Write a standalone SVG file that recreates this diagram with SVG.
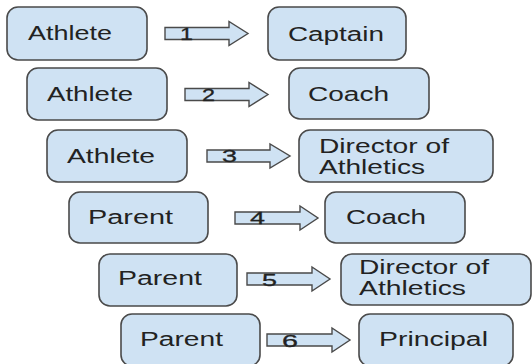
<svg xmlns="http://www.w3.org/2000/svg" width="532" height="364" viewBox="0 0 532 364">
<style>
.box{fill:#cfe2f3;stroke:#4a4a4a;stroke-width:1.6}
.arr{fill:#cfe2f3;stroke:#4a4a4a;stroke-width:1.4;stroke-linejoin:miter}
.t{font-family:"Liberation Sans",Arial,sans-serif;font-size:20px;fill:#222}
.n{font-family:"Liberation Sans",Arial,sans-serif;font-size:17px;fill:#222;stroke:#222;stroke-width:0.3}
</style>
<rect width="532" height="364" fill="#fff"/>
<g id="connectors">
<g id="c1"><polygon class="arr" points="165,27.5 229,27.5 229,21.5 248,33.5 229,45.5 229,39.5 165,39.5"/><text class="n" x="180" y="40" textLength="13" lengthAdjust="spacingAndGlyphs">1</text></g>
<g id="c2"><polygon class="arr" points="185,88.5 249,88.5 249,82.5 268,94.5 249,106.5 249,100.5 185,100.5"/><text class="n" x="202" y="101" textLength="13" lengthAdjust="spacingAndGlyphs">2</text></g>
<g id="c3"><polygon class="arr" points="207,150 270,150 270,144 290,156 270,168 270,162 207,162"/><text class="n" x="222" y="162" textLength="15" lengthAdjust="spacingAndGlyphs">3</text></g>
<g id="c4"><polygon class="arr" points="235,212 300,212 300,206 318,218 300,230 300,224 235,224"/><text class="n" x="250" y="223.5" textLength="15" lengthAdjust="spacingAndGlyphs">4</text></g>
<g id="c5"><polygon class="arr" points="247,273 312,273 312,267 330,279 312,291 312,285 247,285"/><text class="n" x="262" y="286" textLength="15" lengthAdjust="spacingAndGlyphs">5</text></g>
<g id="c6"><polygon class="arr" points="267,334 332,334 332,328 350,340 332,352 332,346 267,346"/><text class="n" x="282" y="347" textLength="16" lengthAdjust="spacingAndGlyphs">6</text></g>
</g>
<g id="athlete1"><rect class="box" x="7" y="7" width="140" height="53" rx="11"/><text class="t" x="28" y="40" textLength="84" lengthAdjust="spacingAndGlyphs">Athlete</text></g>
<g id="captain"><rect class="box" x="268" y="7" width="138" height="53" rx="11"/><text class="t" x="288" y="41" textLength="96" lengthAdjust="spacingAndGlyphs">Captain</text></g>
<g id="athlete2"><rect class="box" x="27" y="68" width="140" height="52" rx="11"/><text class="t" x="47" y="101" textLength="86" lengthAdjust="spacingAndGlyphs">Athlete</text></g>
<g id="coach1"><rect class="box" x="289" y="68" width="140" height="51" rx="11"/><text class="t" x="308" y="101" textLength="81" lengthAdjust="spacingAndGlyphs">Coach</text></g>
<g id="athlete3"><rect class="box" x="47" y="130" width="140" height="52" rx="11"/><text class="t" x="67" y="163" textLength="88" lengthAdjust="spacingAndGlyphs">Athlete</text></g>
<g id="director1"><rect class="box" x="299" y="130" width="194" height="52" rx="11"/><text class="t" x="319" y="153" textLength="130" lengthAdjust="spacingAndGlyphs">Director of</text><text class="t" x="319" y="174" textLength="106" lengthAdjust="spacingAndGlyphs">Athletics</text></g>
<g id="parent1"><rect class="box" x="69" y="192" width="139" height="51" rx="11"/><text class="t" x="88" y="224" textLength="85" lengthAdjust="spacingAndGlyphs">Parent</text></g>
<g id="coach2"><rect class="box" x="325" y="192" width="140" height="51" rx="11"/><text class="t" x="346" y="224" textLength="80" lengthAdjust="spacingAndGlyphs">Coach</text></g>
<g id="parent2"><rect class="box" x="99" y="254" width="138" height="52" rx="11"/><text class="t" x="118" y="285" textLength="84" lengthAdjust="spacingAndGlyphs">Parent</text></g>
<g id="director2"><rect class="box" x="341" y="254" width="190" height="51" rx="11"/><text class="t" x="359" y="274" textLength="130" lengthAdjust="spacingAndGlyphs">Director of</text><text class="t" x="359" y="295" textLength="107" lengthAdjust="spacingAndGlyphs">Athletics</text></g>
<g id="parent3"><rect class="box" x="121" y="314" width="139" height="52" rx="11"/><text class="t" x="140" y="346" textLength="83" lengthAdjust="spacingAndGlyphs">Parent</text></g>
<g id="principal"><rect class="box" x="359" y="314" width="154" height="52" rx="11"/><text class="t" x="379" y="346" textLength="109" lengthAdjust="spacingAndGlyphs">Principal</text></g>
</svg>
